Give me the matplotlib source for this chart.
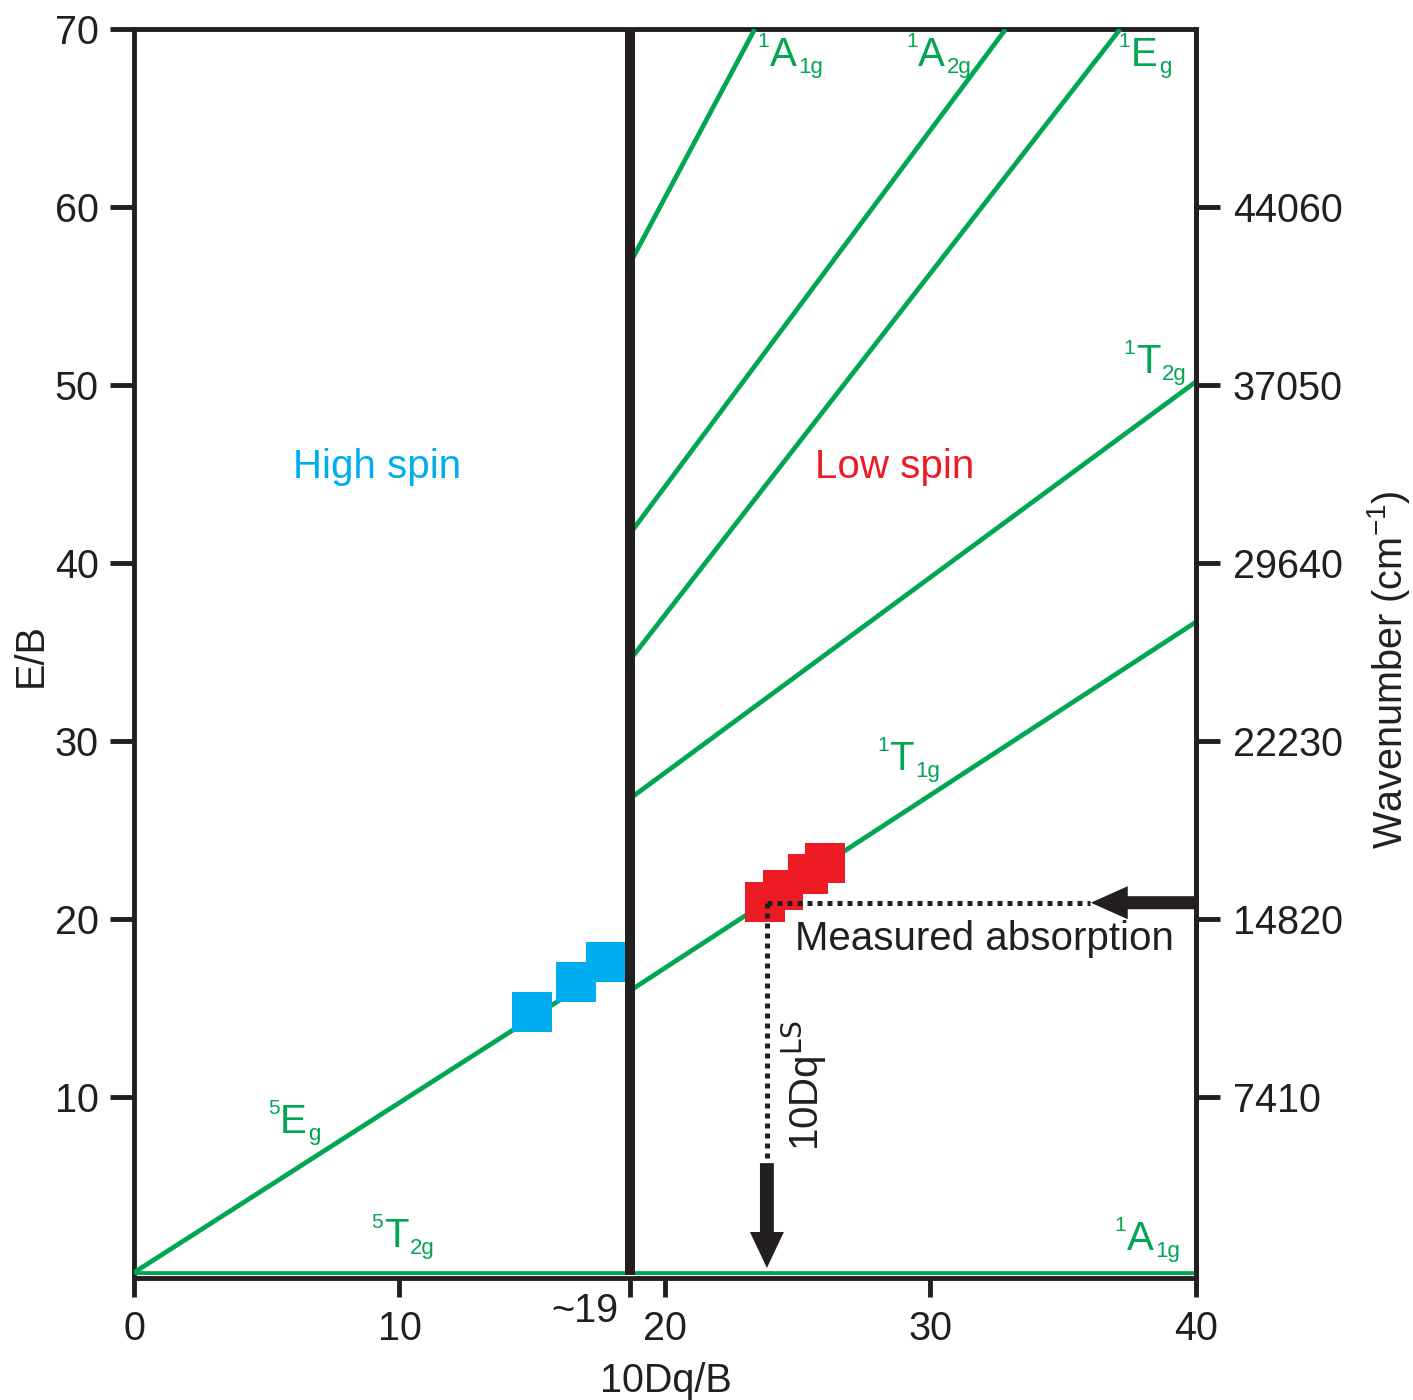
import matplotlib
matplotlib.use("Agg")
import matplotlib.pyplot as plt
from matplotlib.patches import ArrowStyle

plt.rcParams["font.family"] = ["Liberation Sans", "DejaVu Sans"]
plt.rcParams["mathtext.default"] = "regular"

INK = "#231f20"
GREEN = "#00a651"
BLUE = "#00aeef"
RED = "#ed1c24"

# --- Tanabe-Sugano style d6 diagram data (E/B vs 10Dq/B) ---
crossover = 18.7

t2g5_x = [0, 40]
t2g5_y = [0.15, 0.15]

eg5_x = [0, crossover]
eg5_y = [0.15, 18.0]

t1g1_x = [crossover, 40]
t1g1_y = [16.0, 36.7]

t2g1_x = [crossover, 40]
t2g1_y = [26.8, 50.2]

eg1_x = [crossover, 37.14]
eg1_y = [34.6, 70]

a2g1_x = [crossover, 32.83]
a2g1_y = [41.7, 70]

a1g1_x = [crossover, 23.38]
a1g1_y = [56.9, 70]

# measured samples
hs_x = [15.00, 16.66, 17.79]
hs_y = [14.79, 16.48, 17.60]
ls_x = [23.76, 24.44, 25.39, 26.03]
ls_y = [20.99, 21.66, 22.56, 23.18]

# absorption read-off
absorb_E = 20.93
dq_ls = 23.84

x_ticks = [0, 10, crossover, 20, 30, 40]
x_ticklabels = ["0", "10", "", "20", "30", "40"]
y_ticks = [10, 20, 30, 40, 50, 60, 70]
wn_ticks = [10, 20, 30, 40, 50, 60]
wn_labels = ["7410", "14820", "22230", "29640", "37050", "44060"]

# term symbols: (x, y of main letter baseline-left, multiplicity, letter, subscript)
terms = [
    (23.95, 67.94, "1", "A", "1g"),
    (29.54, 67.94, "1", "A", "2g"),
    (37.54, 67.94, "1", "E", "g"),
    (37.74, 50.70, "1", "T", "2g"),
    (28.45, 28.39, "1", "T", "1g"),
    (5.51, 7.99, "5", "E", "g"),
    (9.41, 1.59, "5", "T", "2g"),
    (37.40, 1.42, "1", "A", "1g"),
]
letter_em = {"A": 0.667, "E": 0.667, "T": 0.611}

fig = plt.figure(figsize=(14.13, 14.0), dpi=100)
ax = fig.add_axes([0.0948, 0.0891, 0.7516, 0.8900])
ax.set_xlim(0, 40)
ax.set_ylim(0, 70)

lw_g = 3.4
for xs, ys in [(t2g5_x, t2g5_y), (eg5_x, eg5_y), (t1g1_x, t1g1_y),
               (t2g1_x, t2g1_y), (eg1_x, eg1_y), (a2g1_x, a2g1_y),
               (a1g1_x, a1g1_y)]:
    ax.plot(xs, ys, color=GREEN, lw=lw_g, zorder=2, solid_capstyle="butt")

ax.plot(hs_x, hs_y, ls="none", marker="s", ms=29, mew=0, color=BLUE, zorder=3)
ax.plot(ls_x, ls_y, ls="none", marker="s", ms=29, mew=0, color=RED, zorder=3)

# spin crossover boundary
ax.axvline(crossover, ymin=0, ymax=1, color=INK, lw=7.2, zorder=4)

# dotted read-off lines
ax.plot([dq_ls, 36.0], [absorb_E, absorb_E], color=INK, lw=3.6,
        ls=(0, (1, 1)), zorder=5)
ax.plot([dq_ls, dq_ls], [absorb_E, 6.3], color=INK, lw=3.6,
        ls=(0, (1, 1)), zorder=5)

ax.annotate("", xy=(36.04, absorb_E), xytext=(40, absorb_E),
            arrowprops=dict(arrowstyle=ArrowStyle.Simple(head_length=2.66, head_width=2.38, tail_width=0.94),
                            mutation_scale=10, color=INK, lw=0, shrinkA=0, shrinkB=0),
            annotation_clip=False, zorder=6)
ax.annotate("", xy=(dq_ls, 0.41), xytext=(dq_ls, 6.3),
            arrowprops=dict(arrowstyle=ArrowStyle.Simple(head_length=2.59, head_width=2.45, tail_width=1.0),
                            mutation_scale=10, color=INK, lw=0, shrinkA=0, shrinkB=0),
            annotation_clip=False, zorder=6)

# state labels, built from three pieces so the scripts stay small
fs = 29
fs_sup = 15
fs_sub = 16
for x, y, mult, letter, sub in terms:
    ax.text(x, y, letter, color=GREEN, fontsize=fs, ha="left", va="baseline", zorder=7)
    ax.annotate(mult, xy=(x, y), xytext=(-0.5, 13.5), textcoords="offset points",
                color=GREEN, fontsize=fs_sup, ha="right", va="baseline", zorder=7)
    ax.annotate(sub, xy=(x, y), xytext=(letter_em[letter] * fs + 1.0, -5.0),
                textcoords="offset points", color=GREEN, fontsize=fs_sub,
                ha="left", va="baseline", zorder=7)

ax.text(9.14, 45.41, "High spin", color=BLUE, fontsize=fs, ha="center", va="center")
ax.text(28.64, 45.41, "Low spin", color=RED, fontsize=fs, ha="center", va="center")
ax.text(24.9, 18.28, "Measured absorption", color=INK, fontsize=fs, ha="left", va="baseline")
ax.text(25.24, 10.63, r"10Dq$^{\mathsf{LS}}$", color=INK, fontsize=fs, rotation=90,
        ha="center", va="center")

# axes styling
for side in ["left", "right", "top", "bottom"]:
    ax.spines[side].set_linewidth(3.5)
    ax.spines[side].set_color(INK)
    ax.spines[side].set_zorder(1)
ax.spines["bottom"].set_position(("outward", 2))

ax.set_xticks(x_ticks)
ax.set_xticklabels(x_ticklabels)
ax.set_yticks(y_ticks)
ax.tick_params(axis="y", direction="out", length=17, width=3.5, color=INK,
               labelcolor=INK, labelsize=28.5, pad=8.5)
ax.tick_params(axis="x", direction="out", length=13.5, width=3.5, color=INK,
               labelcolor=INK, labelsize=28.5, pad=9.5)

ax2 = ax.twinx()
ax2.set_ylim(0, 70)
ax2.set_yticks(wn_ticks)
ax2.set_yticklabels(wn_labels)
for side in ["left", "top", "bottom"]:
    ax2.spines[side].set_visible(False)
ax2.spines["right"].set_linewidth(3.5)
ax2.spines["right"].set_color(INK)
ax2.tick_params(axis="y", direction="out", length=17, width=3.5, color=INK,
                labelcolor=INK, labelsize=28.5, pad=9.4)

xt = ax.get_xaxis_transform()
ax.text(16.98, -0.0375, "~19", transform=xt, color=INK, fontsize=28.5,
        ha="center", va="baseline")
ax.text(20.02, -0.0937, "10Dq/B", transform=xt, color=INK, fontsize=28.5,
        ha="center", va="baseline")
ax.text(-0.097, 0.498, "E/B", transform=ax.transAxes, color=INK, fontsize=28.5,
        rotation=90, ha="center", va="center", rotation_mode="anchor")
ax.text(1.181, 0.486, r"Wavenumber (cm$^{-1}$)", transform=ax.transAxes, color=INK,
        fontsize=28.5, rotation=90, ha="center", va="center", rotation_mode="anchor")

fig.savefig("out.png", dpi=100)
